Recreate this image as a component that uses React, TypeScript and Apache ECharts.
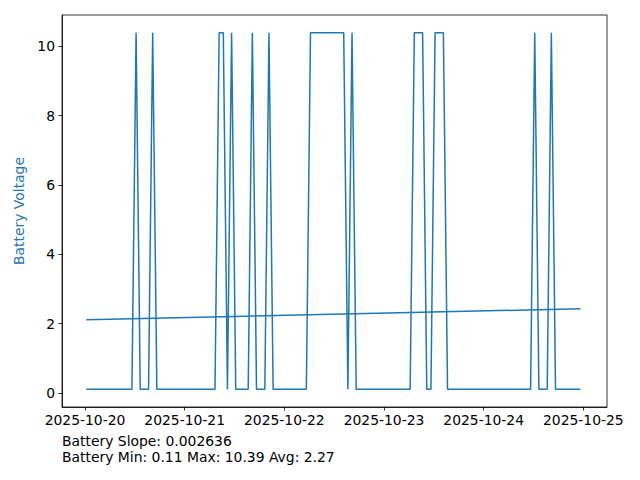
import React, { useEffect, useRef } from "react";
import * as echarts from "echarts";

// Hours since 2025-10-20 00:00 of the first sample; samples are hourly
const firstSampleHour = 0.3;
const dayTickHours = [0, 24, 48, 72, 96, 120];
const dayLabels = ["2025-10-20", "2025-10-21", "2025-10-22", "2025-10-23", "2025-10-24", "2025-10-25"];
const yTicks = [0, 2, 4, 6, 8, 10];

const voltage = [
  0.11, 0.11, 0.11, 0.11, 0.11, 0.11, 0.11, 0.11, 0.11, 0.11, 0.11, 0.11,
  10.39, 0.11, 0.11, 0.11, 10.39, 0.11, 0.11, 0.11, 0.11, 0.11, 0.11, 0.11,
  0.11, 0.11, 0.11, 0.11, 0.11, 0.11, 0.11, 0.11, 10.39, 10.39, 0.11, 10.39,
  0.11, 0.11, 0.11, 0.11, 10.39, 0.11, 0.11, 0.11, 10.39, 0.11, 0.11, 0.11,
  0.11, 0.11, 0.11, 0.11, 0.11, 0.11, 10.39, 10.39, 10.39, 10.39, 10.39, 10.39,
  10.39, 10.39, 10.39, 0.11, 10.39, 0.11, 0.11, 0.11, 0.11, 0.11, 0.11, 0.11,
  0.11, 0.11, 0.11, 0.11, 0.11, 0.11, 0.11, 10.39, 10.39, 10.39, 0.11, 0.11,
  10.39, 10.39, 10.39, 0.11, 0.11, 0.11, 0.11, 0.11, 0.11, 0.11, 0.11, 0.11,
  0.11, 0.11, 0.11, 0.11, 0.11, 0.11, 0.11, 0.11, 0.11, 0.11, 0.11, 0.11,
  10.39, 0.11, 0.11, 0.11, 10.39, 0.11, 0.11, 0.11, 0.11, 0.11, 0.11, 0.11,
];

const trendHours = [0.3, 119.3];
const trendValues = [2.11, 2.43];

const infoLines = ["Battery Slope: 0.002636", "Battery Min: 0.11 Max: 10.39 Avg: 2.27"];

const FONT = '"DejaVu Sans", sans-serif';
const BLUE = "#1f77b4";

export default function App() {
  const ref = useRef<HTMLDivElement>(null);
  useEffect(() => {
    if (!ref.current) return;
    const chart = echarts.init(ref.current, undefined, { renderer: "svg" });
    chart.setOption({
      animation: false,
      backgroundColor: "#ffffff",
      grid: {
        left: 62,
        right: 33,
        top: 15,
        bottom: 73,
        show: true,
        borderColor: "#000",
        borderWidth: 0.8,
        backgroundColor: "transparent",
      },
      xAxis: {
        type: "value",
        min: -5.54,
        max: 125.7,
        axisLine: { show: true, onZero: false, lineStyle: { color: "#000", width: 0.8 } },
        axisTick: {
          show: true,
          inside: false,
          length: 3.5,
          lineStyle: { color: "#000", width: 0.8 },
          customValues: dayTickHours,
        },
        axisLabel: {
          show: true,
          margin: 6,
          color: "#000",
          fontFamily: FONT,
          fontSize: 13.9,
          customValues: dayTickHours,
          formatter: (v: number) => {
            const i = dayTickHours.indexOf(Math.round(v));
            return i >= 0 ? dayLabels[i] : "";
          },
        },
        splitLine: { show: false },
      },
      yAxis: {
        type: "value",
        min: -0.404,
        max: 10.904,
        name: "Battery Voltage",
        nameLocation: "middle",
        nameGap: 33,
        nameTextStyle: { color: BLUE, fontFamily: FONT, fontSize: 13.9 },
        axisLine: { show: true, onZero: false, lineStyle: { color: "#000", width: 0.8 } },
        axisTick: {
          show: true,
          inside: false,
          length: 3.5,
          lineStyle: { color: "#000", width: 0.8 },
          customValues: yTicks,
        },
        axisLabel: {
          show: true,
          margin: 7,
          color: "#000",
          fontFamily: FONT,
          fontSize: 13.9,
          customValues: yTicks,
          formatter: (v: number) => String(Math.round(v)),
        },
        splitLine: { show: false },
      },
      series: [
        {
          type: "line",
          data: voltage.map((v, i) => [firstSampleHour + i, v]),
          showSymbol: false,
          symbol: "none",
          lineStyle: { color: BLUE, width: 1.5 },
          itemStyle: { color: BLUE },
        },
        {
          type: "line",
          data: trendHours.map((h, i) => [h, trendValues[i]]),
          showSymbol: false,
          symbol: "none",
          lineStyle: { color: BLUE, width: 1.5 },
          itemStyle: { color: BLUE },
        },
      ],
      graphic: infoLines.map((t, i) => ({
        type: "text",
        left: 62,
        top: 434 + i * 16,
        style: { text: t, font: `13.9px ${FONT}`, fill: "#000" },
      })),
    });
    return () => chart.dispose();
  }, []);
  return (
    <div
      ref={ref}
      style={{ position: "absolute", left: 0, top: 0, width: 640, height: 480 }}
    />
  );
}
